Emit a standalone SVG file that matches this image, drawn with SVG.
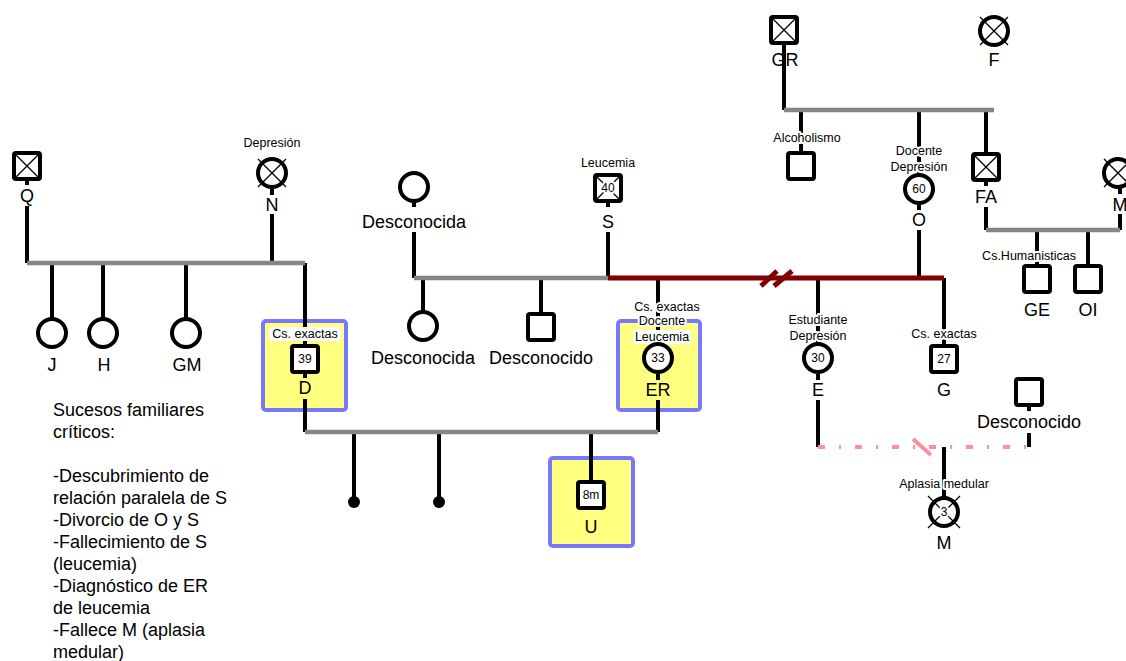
<svg xmlns="http://www.w3.org/2000/svg" width="1126" height="661" viewBox="0 0 1126 661">
<style>
text{font-family:"Liberation Sans",Arial,sans-serif;fill:#000}
.n{font-size:18px;text-anchor:middle}
.s{font-size:12.5px;text-anchor:middle}
.v{font-size:12px;text-anchor:middle}
.leg{font-size:18px}
.h{stroke:#fff;stroke-width:4;stroke-linejoin:round;paint-order:stroke}
.k{stroke:#000;stroke-width:4;fill:none}
.g{stroke:#868686;stroke-width:4.5;fill:none}
.r{stroke:#800000;stroke-width:5;fill:none}
.p{stroke:#ff8fa0;stroke-width:4;fill:none}
.sym{fill:#fff;stroke:#000;stroke-width:4}
.x{stroke:#000;stroke-width:1.3}
.box{fill:#ffff80;stroke:#7878ff;stroke-width:4}
</style>
<rect width="1126" height="661" fill="#fff"/>
<g id="highlights">
<rect id="box-D" class="box" x="263" y="321" width="83" height="89" rx="3"/>
<rect id="box-ER" class="box" x="618" y="321" width="82" height="89" rx="3"/>
<rect id="box-U" class="box" x="550" y="458" width="83" height="88" rx="3"/>
</g>
<g id="connectors">
<path class="k" d="M27 179V185M27 206V263M272 189V195M272 214V263M52 263V319M103 263V319M186 263V319M305 263V345M305 373V378M305 399V432M354 432V500M439 432V500M591 432V481M414 202V207M414 232V278M608 201V207M608 232V278M423 278V311M541 278V313M658 278V343M658 374V380M658 400V432M818 278V343M818 374V380M818 400V447M944 278V345M919 110V175M919 204V210M919 230V278M784 43V110M801 110V153M986 110V154M986 180V186M986 207V230M1120 187V194M1120 214V230M1037 230V266M1088 230V266M1029 406V411M1029 433V447M944 447V497"/>
<path class="g" d="M27 263H305M305 432H658M414 278H608M784 110H994M986 230H1120"/>
<path class="r" d="M608 278H944"/>
<path class="r" d="M761 286L777 271M774 286L792 271"/>
<path class="p" d="M818 447H1029" stroke-dasharray="7 14 2 14"/>
<path class="p" d="M913 439L931 455"/>
<circle cx="354" cy="502" r="6" fill="#000"/>
<circle cx="439" cy="502" r="6" fill="#000"/>
</g>
<g id="node-Q"><rect class="sym" x="14" y="153" width="26" height="26" rx="2"/><path class="x" d="M14 153L40 179M40 153L14 179"/><text class="n" x="27" y="202">Q</text></g>
<g id="node-N"><circle class="sym" cx="272" cy="173" r="14"/><path class="x" d="M258 159L286 187M286 159L258 187"/><text class="s" x="272" y="147">Depresión</text><text class="n" x="272" y="211">N</text></g>
<g id="node-J"><circle class="sym" cx="52" cy="333" r="14"/><text class="n" x="52" y="371">J</text></g>
<g id="node-H"><circle class="sym" cx="103" cy="333" r="14"/><text class="n" x="104" y="371">H</text></g>
<g id="node-GM"><circle class="sym" cx="186" cy="333" r="14"/><text class="n" x="187" y="371">GM</text></g>
<g id="node-D"><rect x="269" y="327" width="72" height="14" rx="4" fill="#fff"/><text class="s" x="305" y="338">Cs. exactas</text><rect class="sym" x="292" y="346" width="26" height="26" rx="2"/><text class="v" x="305" y="363">39</text><text class="n" x="305" y="394">D</text></g>
<g id="node-U"><rect class="sym" x="578" y="482" width="26" height="26" rx="2"/><text class="v" x="591" y="499">8m</text><text class="n" x="591" y="533">U</text></g>
<g id="node-Desconocida1"><circle class="sym" cx="414" cy="187" r="14"/><text class="n" x="414" y="228">Desconocida</text></g>
<g id="node-S"><rect class="sym" x="595" y="175" width="26" height="26" rx="2"/><path class="x" d="M595 175L621 201M621 175L595 201"/><text class="v h" x="608" y="192">40</text><text class="s" x="608" y="167">Leucemia</text><text class="n" x="608" y="228">S</text></g>
<g id="node-Desconocida2"><circle class="sym" cx="423" cy="326" r="14"/><text class="n" x="423" y="364">Desconocida</text></g>
<g id="node-Desconocido1"><rect class="sym" x="528" y="314" width="26" height="26" rx="2"/><text class="n" x="541" y="364">Desconocido</text></g>
<g id="node-ER"><text class="s h" x="667" y="311">Cs. exactas</text><text class="s h" x="662" y="325">Docente</text><rect x="633" y="330" width="58" height="14" rx="3" fill="#fff"/><text class="s" x="662" y="341">Leucemia</text><circle class="sym" cx="658" cy="358" r="14"/><text class="v" x="658" y="362">33</text><text class="n" x="658" y="396">ER</text></g>
<g id="node-E"><text class="s h" x="818" y="324">Estudiante</text><text class="s h" x="818" y="340">Depresión</text><circle class="sym" cx="818" cy="358" r="14"/><text class="v" x="818" y="362">30</text><text class="n" x="818" y="396">E</text></g>
<g id="node-G"><text class="s h" x="944" y="338">Cs. exactas</text><rect class="sym" x="931" y="346" width="26" height="26" rx="2"/><text class="v" x="944" y="363">27</text><text class="n" x="944" y="396">G</text></g>
<g id="node-GR"><rect class="sym" x="771" y="17" width="26" height="26" rx="2"/><path class="x" d="M771 17L797 43M797 17L771 43"/><text class="n" x="785" y="66">GR</text></g>
<g id="node-F"><circle class="sym" cx="994" cy="31" r="14"/><path class="x" d="M980 17L1008 45M1008 17L980 45"/><text class="n" x="994" y="66">F</text></g>
<g id="node-Alcoholismo"><text class="s h" x="807" y="142">Alcoholismo</text><rect class="sym" x="788" y="153" width="26" height="26" rx="2"/></g>
<g id="node-O"><text class="s h" x="919" y="155">Docente</text><text class="s h" x="919" y="171">Depresión</text><circle class="sym" cx="919" cy="189" r="14"/><text class="v" x="919" y="193">60</text><text class="n" x="919" y="226">O</text></g>
<g id="node-FA"><rect class="sym" x="973" y="154" width="26" height="26" rx="2"/><path class="x" d="M973 154L999 180M999 154L973 180"/><text class="n" x="986" y="203">FA</text></g>
<g id="node-M1"><circle class="sym" cx="1118" cy="173" r="14"/><path class="x" d="M1104 159L1132 187M1132 159L1104 187"/><text class="n" x="1120" y="211">M</text></g>
<g id="node-GE"><text class="s h" x="1029" y="260">Cs.Humanisticas</text><rect class="sym" x="1024" y="266" width="26" height="26" rx="2"/><text class="n" x="1037" y="316">GE</text></g>
<g id="node-OI"><rect class="sym" x="1075" y="266" width="26" height="26" rx="2"/><text class="n" x="1088" y="316">OI</text></g>
<g id="node-Desconocido2"><rect class="sym" x="1016" y="379" width="26" height="26" rx="2"/><text class="n" x="1029" y="428">Desconocido</text></g>
<g id="node-M2"><text class="s h" x="944" y="488">Aplasia medular</text><circle class="sym" cx="944" cy="512" r="14"/><path class="x" d="M928 496L960 528M960 496L928 528"/><text class="v h" x="944" y="516">3</text><text class="n" x="944" y="549">M</text></g>
<g id="legend">
<text class="leg" x="53" y="416">Sucesos familiares</text>
<text class="leg" x="53" y="438">críticos:</text>
<text class="leg" x="53" y="482">-Descubrimiento de</text>
<text class="leg" x="53" y="504">relación paralela de S</text>
<text class="leg" x="53" y="526">-Divorcio de O y S</text>
<text class="leg" x="53" y="548">-Fallecimiento de S</text>
<text class="leg" x="53" y="570">(leucemia)</text>
<text class="leg" x="53" y="592">-Diagnóstico de ER</text>
<text class="leg" x="53" y="614">de leucemia</text>
<text class="leg" x="53" y="636">-Fallece M (aplasia</text>
<text class="leg" x="53" y="658">medular)</text>
</g>
</svg>
